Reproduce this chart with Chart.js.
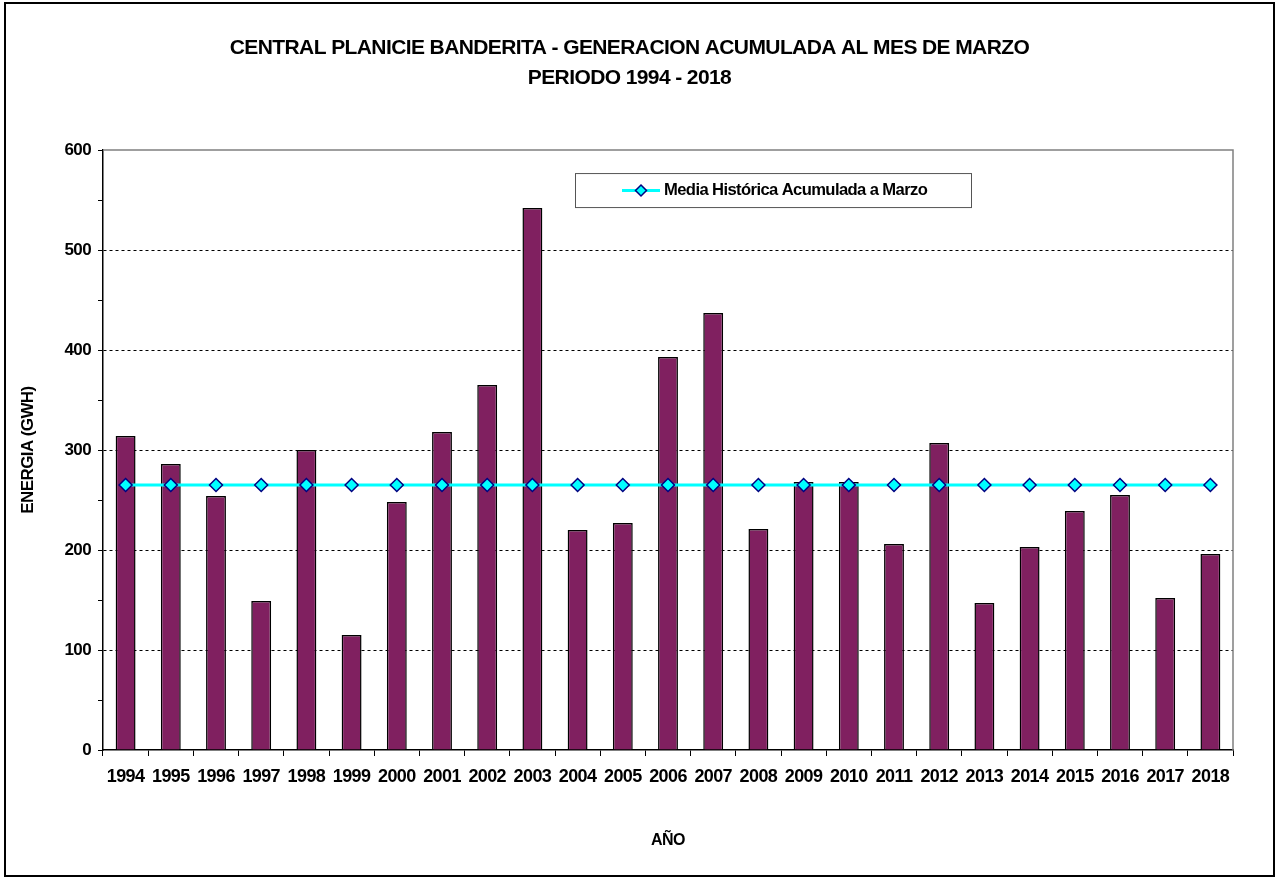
<!DOCTYPE html>
<html>
<head>
<meta charset="utf-8">
<script src="https://cdn.jsdelivr.net/npm/chart.js@4.4.1/dist/chart.umd.min.js"></script>
<style>
  html, body { margin: 0; padding: 0; background: #fff; }
</style>
</head>
<body>
<canvas id="chart" width="1276" height="879"></canvas>
<script>
// data
const years = ["1994", "1995", "1996", "1997", "1998", "1999", "2000", "2001", "2002",
  "2003", "2004", "2005", "2006", "2007", "2008", "2009", "2010", "2011", "2012",
  "2013", "2014", "2015", "2016", "2017", "2018"];
const energia = [314, 286, 254, 149, 300, 115, 248, 318, 365, 542, 220, 227, 393,
  437, 221, 268, 268, 206, 307, 147, 203, 239, 255, 152, 196];
const mediaHistorica = [265, 265, 265, 265, 265, 265, 265, 265, 265, 265, 265, 265,
  265, 265, 265, 265, 265, 265, 265, 265, 265, 265, 265, 265, 265];
const chartTitle = ["CENTRAL PLANICIE BANDERITA - GENERACION ACUMULADA AL MES DE MARZO",
  "PERIODO 1994 - 2018"];
const mediaLabel = "Media Histórica Acumulada a Marzo";
const yTitle = "ENERGIA (GWH)";
const xTitle = "AÑO";

const FONT = "'Liberation Sans', Arial, sans-serif";

// tight lettering like the original export
const tightText = {
  id: "tightText",
  beforeInit(chart) { chart.ctx.letterSpacing = "-0.6px"; },
  beforeDraw(chart) { chart.ctx.letterSpacing = "-0.6px"; }
};

// frame, outer border and the boxed legend
const decorations = {
  id: "decorations",
  afterDraw(chart) {
    const { ctx, chartArea: a } = chart;
    ctx.save();
    // grey frame on top and right of the plot area
    ctx.strokeStyle = "#808080";
    ctx.lineWidth = 1.5;
    ctx.beginPath();
    ctx.moveTo(a.left, a.top);
    ctx.lineTo(a.right, a.top);
    ctx.lineTo(a.right, a.bottom);
    ctx.stroke();

    // legend box
    const ds = chart.data.datasets[1];
    const bx = a.left + 472, by = a.top + 23, bw = 396, bh = 34;
    ctx.fillStyle = "#fff";
    ctx.fillRect(bx, by, bw, bh);
    ctx.strokeStyle = "#555";
    ctx.lineWidth = 1;
    ctx.strokeRect(bx + 0.5, by + 0.5, bw, bh);
    const cy = by + bh / 2 + 0.5;
    ctx.strokeStyle = ds.borderColor;
    ctx.lineWidth = 3;
    ctx.beginPath();
    ctx.moveTo(bx + 47, cy);
    ctx.lineTo(bx + 85, cy);
    ctx.stroke();
    ctx.fillStyle = ds.pointBackgroundColor;
    ctx.strokeStyle = ds.pointBorderColor;
    ctx.lineWidth = 1.5;
    ctx.beginPath();
    ctx.moveTo(bx + 66, cy - 5.5);
    ctx.lineTo(bx + 71.5, cy);
    ctx.lineTo(bx + 66, cy + 5.5);
    ctx.lineTo(bx + 60.5, cy);
    ctx.closePath();
    ctx.fill();
    ctx.stroke();
    ctx.fillStyle = "#000";
    ctx.font = "bold 16.6px " + FONT;
    ctx.textBaseline = "middle";
    ctx.fillText(ds.label, bx + 89, cy);

    // outer black border
    ctx.strokeStyle = "#000";
    ctx.lineWidth = 2;
    ctx.strokeRect(5, 3, 1269, 873);
    ctx.restore();
  }
};

new Chart(document.getElementById("chart"), {
  type: "bar",
  data: {
    labels: years,
    datasets: [
      {
        type: "bar",
        label: "Energía",
        data: energia,
        backgroundColor: "#802060",
        borderColor: "#000",
        borderWidth: 1.5,
        barPercentage: 0.44,
        categoryPercentage: 1,
        order: 2
      },
      {
        type: "line",
        label: mediaLabel,
        data: mediaHistorica,
        borderColor: "#00FFFF",
        borderWidth: 3,
        pointStyle: "rectRot",
        pointRadius: 6.5,
        pointBackgroundColor: "#00FFFF",
        pointBorderColor: "#000080",
        pointBorderWidth: 1.5,
        order: 1
      }
    ]
  },
  options: {
    responsive: false,
    animation: false,
    layout: { padding: { top: 0, right: 43, bottom: 0, left: 26 } },
    plugins: {
      legend: { display: false },
      tooltip: { enabled: false },
      title: {
        display: true,
        text: chartTitle,
        color: "#000",
        font: { family: FONT, size: 21, weight: "bold", lineHeight: 1.43 },
        padding: { top: 33, bottom: 57 }
      }
    },
    scales: {
      x: {
        offset: true,
        grid: {
          offset: true,
          drawOnChartArea: false,
          tickColor: "#000",
          tickLength: 6
        },
        border: { color: "#000", width: 1.5 },
        ticks: {
          color: "#000",
          font: { family: FONT, size: 18, weight: "bold" },
          padding: 10,
          maxRotation: 0,
          autoSkip: false
        },
        title: {
          display: true,
          text: xTitle,
          color: "#000",
          font: { family: FONT, size: 16, weight: "bold" },
          padding: { top: 0, bottom: 29 }
        },
        afterFit(scale) { scale.height = 129; }
      },
      y: {
        min: 0,
        max: 600,
        grid: {
          color: (c) => (c.tick.value % 100 === 0 && c.tick.value > 0 && c.tick.value < 600)
            ? "#000" : "rgba(0,0,0,0)",
          tickColor: "#000",
          tickLength: 5,
          tickBorderDash: []
        },
        border: { color: "#000", width: 1.5, dash: [3, 3] },
        ticks: {
          stepSize: 50,
          autoSkip: false,
          color: "#000",
          font: { family: FONT, size: 17, weight: "bold" },
          padding: 7,
          callback: (v) => (v % 100 === 0 ? v : "")
        },
        title: {
          display: true,
          text: yTitle,
          color: "#000",
          font: { family: FONT, size: 17, weight: "bold" },
          padding: { top: -8, bottom: 0 }
        },
        afterFit(scale) { scale.width = 77; }
      }
    }
  },
  plugins: [tightText, decorations]
});
</script>
</body>
</html>
